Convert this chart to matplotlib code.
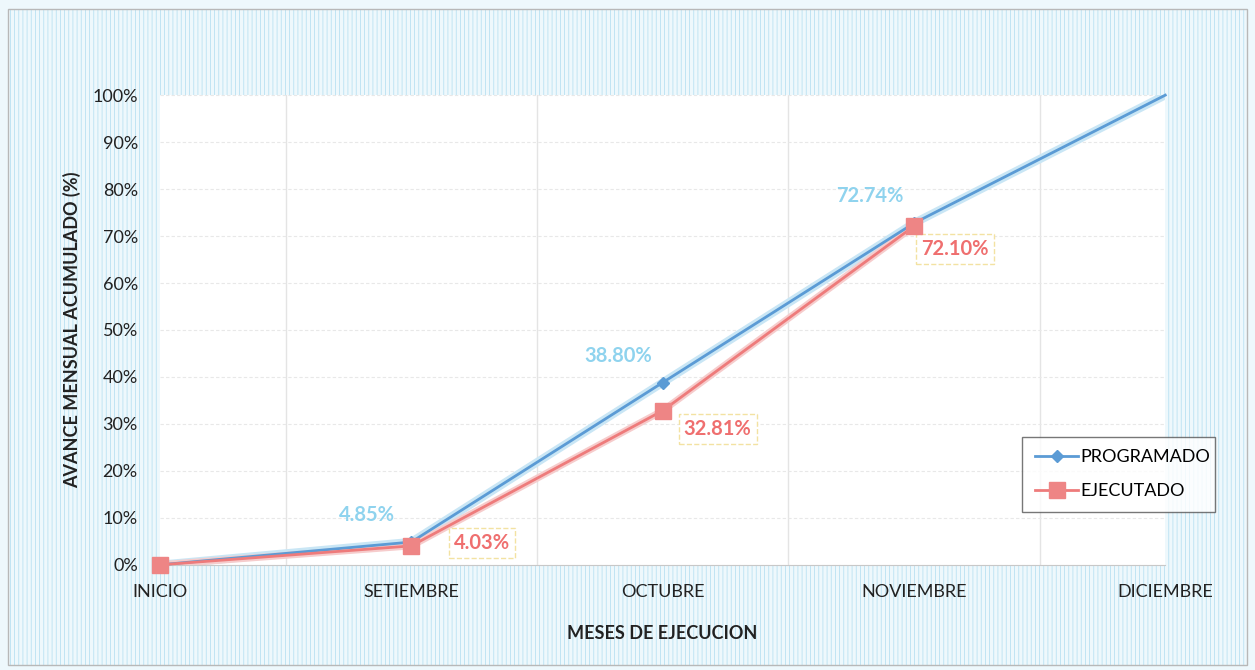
import matplotlib.pyplot as plt
from matplotlib.patches import Rectangle
from matplotlib.ticker import PercentFormatter

meses = ['INICIO', 'SETIEMBRE', 'OCTUBRE', 'NOVIEMBRE', 'DICIEMBRE']
programado = [0.0, 4.85, 38.80, 72.74, 100.0]
ejecutado = [0.0, 4.03, 32.81, 72.10]
etiquetas_prog = ['', '4.85%', '38.80%', '72.74%', '']
etiquetas_ejec = ['', '4.03%', '32.81%', '72.10%']

plt.rcParams['font.family'] = ['Lato', 'DejaVu Sans']
plt.rcParams['hatch.color'] = '#b9e1f2'
plt.rcParams['hatch.linewidth'] = 0.6

fig = plt.figure(figsize=(12.55, 6.70), dpi=100, facecolor='#eef8fc')
# fondo rayado celeste como en la imagen escaneada
fondo = Rectangle((0.006, 0.008), 0.988, 0.978, transform=fig.transFigure,
                  facecolor='#eef8fc', edgecolor='#b9e1f2', hatch='||||',
                  linewidth=0, zorder=-2)
fig.patches.append(fondo)
borde = Rectangle((0.006, 0.008), 0.988, 0.978, transform=fig.transFigure,
                  facecolor='none', edgecolor='#b8b8b8', linewidth=1.0, zorder=-1)
fig.patches.append(borde)

ax = fig.add_axes([0.1275, 0.157, 0.801, 0.701])
ax.set_facecolor('white')

x = list(range(len(meses)))
ax.plot(x, programado, color='#c9e6f5', linewidth=6, zorder=2, solid_capstyle='round')
ax.plot(x, programado, color='#5b9bd5', linewidth=2, marker='D', markersize=6,
        markevery=[0, 1, 2, 3],
        markerfacecolor='#5b9bd5', markeredgecolor='#5b9bd5', zorder=3, label='PROGRAMADO',
        clip_on=False)
ax.plot(x[:len(ejecutado)], ejecutado, color='#f6cccc', linewidth=5, zorder=2, solid_capstyle='round')
ax.plot(x[:len(ejecutado)], ejecutado, color='#ee7b7b', linewidth=2, marker='s', markersize=11,
        markerfacecolor='#ee8585', markeredgecolor='#ee8585', zorder=4, label='EJECUTADO',
        clip_on=False)

for i, txt in enumerate(etiquetas_prog):
    if txt:
        ax.annotate(txt, (x[i], programado[i]), xytext=(-44, 27), textcoords='offset pixels',
                    ha='center', va='center', fontsize=14.5, fontweight='bold', color='#8fd3ee')

offs = [(0, 0), (71, 3), (55, -18), (41, -23)]
for i, txt in enumerate(etiquetas_ejec):
    if txt:
        ax.annotate(txt, (x[i], ejecutado[i]), xytext=offs[i], textcoords='offset pixels',
                    ha='center', va='center', fontsize=14.5, fontweight='bold', color='#ef6f6f',
                    bbox=dict(boxstyle='square,pad=0.25', facecolor='white',
                              edgecolor='#f3e2a2', linestyle='--', linewidth=1))

ax.set_xlim(0, 4)
ax.set_ylim(0, 100)
ax.set_yticks(range(0, 101, 10))
ax.yaxis.set_major_formatter(PercentFormatter(decimals=0))
ax.set_xticks(x)
ax.set_xticklabels(meses)
ax.set_xticks([0.5, 1.5, 2.5, 3.5], minor=True)
ax.tick_params(axis='both', which='both', length=0, labelsize=13, colors='#222222')
ax.tick_params(axis='x', pad=14)
ax.tick_params(axis='y', pad=16)
ax.grid(axis='y', which='major', color='#e8e8e8', linewidth=0.8, linestyle=(0, (3, 2)))
ax.grid(axis='x', which='minor', color='#e4e4e4', linewidth=1)
for s in ['top', 'right', 'left']:
    ax.spines[s].set_visible(False)
ax.spines['bottom'].set_color('#c8c8c8')

ax.set_xlabel('MESES DE EJECUCION', fontsize=13, fontweight='bold', color='#222222', labelpad=18)
ax.set_ylabel('AVANCE MENSUAL ACUMULADO (%)', fontsize=13, fontweight='bold', color='#222222', labelpad=8)

leg = ax.legend(loc='lower left', bbox_to_anchor=(0.8145, 0.236, 0.154, 0.12),
                bbox_transform=fig.transFigure, mode='expand', fontsize=13,
                frameon=True, fancybox=False, handlelength=2.4, borderpad=0.7,
                labelspacing=1.0, handletextpad=0.1, borderaxespad=0)
leg.get_frame().set_edgecolor('#555555')
leg.get_frame().set_linewidth(1.0)

fig.savefig('out.png', dpi=100, facecolor=fig.get_facecolor())
